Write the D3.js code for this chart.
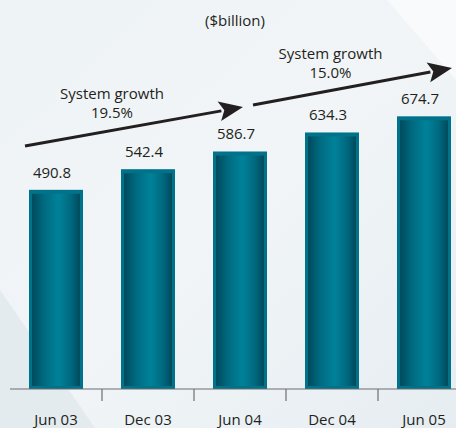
<!DOCTYPE html>
<html>
<head>
<meta charset="utf-8">
<script src="https://cdn.jsdelivr.net/npm/d3@7"></script>
<style>
  body { margin: 0; background: #ecf1f4; }
  svg { display: block; font-family: "Open Sans", sans-serif; }
</style>
</head>
<body>
<div id="chart"></div>
<script>
// data
const periods = ["Jun 03", "Dec 03", "Jun 04", "Dec 04", "Jun 05"];
const assets = [490.8, 542.4, 586.7, 634.3, 674.7];
const unitLabel = "($billion)";
const growthLabels = ["System growth", "System growth"];
const growthRates = ["19.5%", "15.0%"];
// each arrow spans from one period to another
const growthFrom = ["Jun 03", "Jun 04"];
const growthTo = ["Jun 04", "Jun 05"];

const width = 456, height = 428;
const baseY = 389;
const fs = 15;

const svg = d3.select("#chart").append("svg")
  .attr("width", width)
  .attr("height", height);

const defs = svg.append("defs");

// background
const bg = defs.append("linearGradient").attr("id", "bg")
  .attr("x1", 0).attr("y1", 0).attr("x2", 1).attr("y2", 1);
bg.append("stop").attr("offset", 0).attr("stop-color", "#eef3f6");
bg.append("stop").attr("offset", 0.5).attr("stop-color", "#f1f5f7");
bg.append("stop").attr("offset", 1).attr("stop-color", "#e6edf1");
svg.append("rect").attr("width", width).attr("height", height).attr("fill", "url(#bg)");
// lighter panel top right
svg.append("path")
  .attr("d", "M387,0 L456,0 L456,80 Z")
  .attr("fill", "#f8fafb");
// soft diagonal bottom left
svg.append("path")
  .attr("d", "M0,290 L95,428 L0,428 Z")
  .attr("fill", "#e4ebef");

// bar gradient
const bar = defs.append("linearGradient").attr("id", "barFill")
  .attr("x1", 0).attr("y1", 0).attr("x2", 1).attr("y2", 0);
bar.append("stop").attr("offset", 0).attr("stop-color", "#004a5c");
bar.append("stop").attr("offset", 0.25).attr("stop-color", "#006a80");
bar.append("stop").attr("offset", 0.55).attr("stop-color", "#00829a");
bar.append("stop").attr("offset", 0.8).attr("stop-color", "#006a80");
bar.append("stop").attr("offset", 1).attr("stop-color", "#004a5c");

// scales
const x = d3.scaleBand()
  .domain(periods)
  .range([10, 470])
  .paddingInner(0.413)
  .paddingOuter(0.2065);

const y = d3.scaleLinear()
  .domain([0, 700])
  .range([386, 106.2]);

const bw = x.bandwidth();

// bars
const g = svg.append("g");
const bars = g.selectAll(".bar")
  .data(assets)
  .enter().append("g")
  .attr("class", "bar");

bars.append("rect")
  .attr("x", (d, i) => x(periods[i]))
  .attr("y", d => y(d))
  .attr("width", bw)
  .attr("height", d => baseY - y(d))
  .attr("fill", "#00738a");

bars.append("rect")
  .attr("x", (d, i) => x(periods[i]) + 3)
  .attr("y", d => y(d) + 4)
  .attr("width", bw - 6)
  .attr("height", d => baseY - y(d) - 7)
  .attr("fill", "url(#barFill)");

// value labels
g.selectAll(".val")
  .data(assets)
  .enter().append("text")
  .attr("class", "val")
  .attr("x", (d, i) => x(periods[i]) + bw / 2 - 4)
  .attr("y", d => y(d) - 12)
  .attr("text-anchor", "middle")
  .attr("font-size", fs)
  .attr("fill", "#231f20")
  .text(d => d.toFixed(1));

// axis
const axis = svg.append("g").attr("transform", `translate(0,${baseY})`);
axis.append("line")
  .attr("x1", 10).attr("x2", width)
  .attr("stroke", "#6d6e71").attr("stroke-width", 1.2);

const step = x.step();
axis.selectAll(".tick-sep")
  .data(periods.slice(1))
  .enter().append("line")
  .attr("class", "tick-sep")
  .attr("x1", d => x(d) - (step - bw) / 2)
  .attr("x2", d => x(d) - (step - bw) / 2)
  .attr("y1", 0).attr("y2", 12)
  .attr("stroke", "#6d6e71").attr("stroke-width", 1.2);

const xAxis = d3.axisBottom(x).tickSize(0);
const ax = svg.append("g")
  .attr("transform", `translate(0,${baseY})`)
  .call(xAxis);
ax.select(".domain").remove();
ax.selectAll("text")
  .attr("font-size", fs)
  .attr("font-family", "Open Sans, sans-serif")
  .attr("fill", "#231f20")
  .attr("dy", "0.35em")
  .attr("y", 31);

// unit label
svg.append("text")
  .attr("x", 235).attr("y", 26)
  .attr("text-anchor", "middle")
  .attr("font-size", fs)
  .attr("fill", "#231f20")
  .text(unitLabel);

// growth arrows
const arrows = [
  { x1: x(growthFrom[0]) - 4, y1: 146, x2: x(growthTo[0]) + 30, y2: 107 },
  { x1: x(growthFrom[1]) + 40, y1: 105, x2: x(growthTo[1]) + 55, y2: 68 }
];

arrows.forEach(function(a, i) {
  const ang = Math.atan2(a.y2 - a.y1, a.x2 - a.x1);
  const len = 24, half = 10;
  const bx = a.x2 - len * Math.cos(ang), by = a.y2 - len * Math.sin(ang);
  svg.append("line")
    .attr("x1", a.x1).attr("y1", a.y1)
    .attr("x2", bx + 2 * Math.cos(ang)).attr("y2", by + 2 * Math.sin(ang))
    .attr("stroke", "#231f20").attr("stroke-width", 3);
  const px = -Math.sin(ang), py = Math.cos(ang);
  const notch = 5;
  svg.append("path")
    .attr("d", `M${a.x2},${a.y2} L${bx + px * half},${by + py * half} ` +
      `L${bx + notch * Math.cos(ang)},${by + notch * Math.sin(ang)} ` +
      `L${bx - px * half},${by - py * half} Z`)
    .attr("fill", "#231f20");

  const cx = (a.x1 + a.x2) / 2 - 22;
  const cy = (a.y1 + a.y2) / 2 - 28;
  const t = svg.append("text")
    .attr("text-anchor", "middle")
    .attr("font-size", fs)
    .attr("fill", "#231f20");
  t.append("tspan").attr("x", cx).attr("y", cy).text(growthLabels[i]);
  t.append("tspan").attr("x", cx).attr("y", cy + 19).text(growthRates[i]);
});
</script>
</body>
</html>
